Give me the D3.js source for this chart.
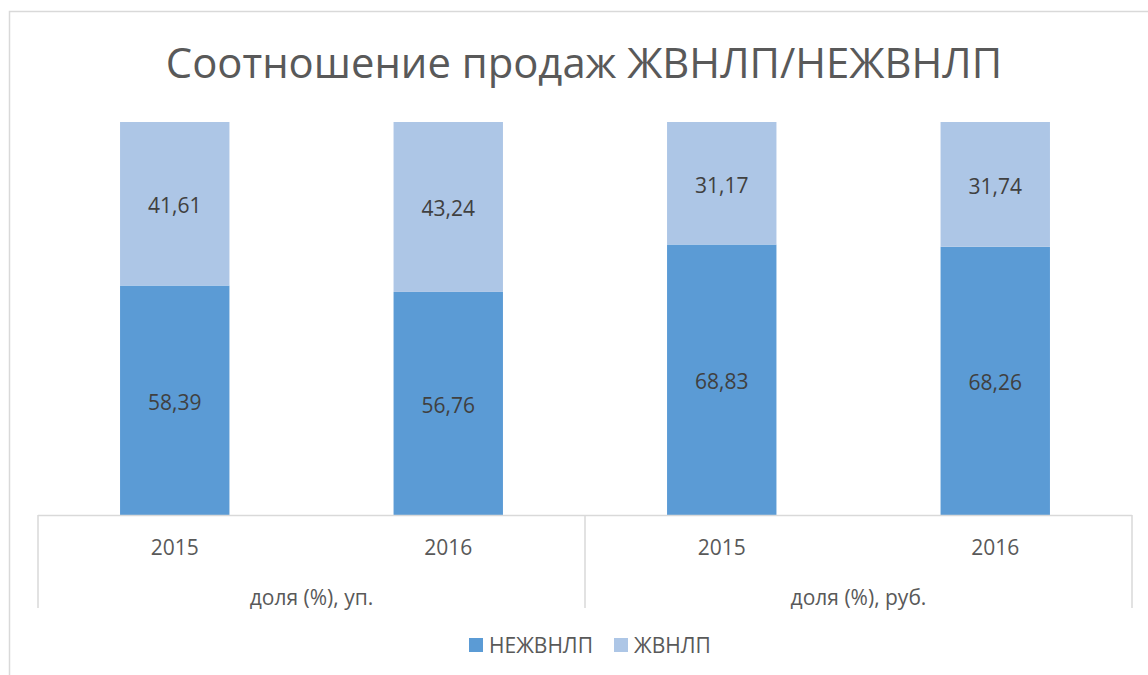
<!DOCTYPE html>
<html><head><meta charset="utf-8">
<script src="https://cdn.jsdelivr.net/npm/d3@7"></script>
<style>body{margin:0;background:#fff}svg{display:block;font-family:"Open Sans",sans-serif}</style>
</head><body><svg id="c" width="1148" height="675"></svg>
<script>
const title = "Соотношение продаж ЖВНЛП/НЕЖВНЛП";
const years = ["2015","2016","2015","2016"];
const groups = ["доля (%), уп.","доля (%), руб."];
const seriesNames = ["НЕЖВНЛП","ЖВНЛП"];
const nonEssential = [58.39,56.76,68.83,68.26];
const essential = [41.61,43.24,31.17,31.74];
const labels = [["58,39","56,76","68,83","68,26"],["41,61","43,24","31,17","31,74"]];
const colors = ["#5B9BD5","#ADC6E6"];

const svg = d3.select("#c");
svg.append("rect").attr("x",9.5).attr("y",11.5).attr("width",1150).attr("height",700)
  .attr("fill","none").attr("stroke","#d9d9d9").attr("stroke-width",1.5);

svg.append("text").attr("x",584).attr("y",78).attr("text-anchor","middle")
  .attr("font-size",41.8).attr("fill","#595959").text(title);

const x = d3.scaleBand().domain(d3.range(4)).range([38,1132]).paddingInner(0.6).paddingOuter(0.3);
const y = d3.scaleLinear().domain([0,100]).range([515,122]);

const stackData = years.map((yr,i)=>({i, s0:nonEssential[i], s1:essential[i]}));
const stack = d3.stack().keys(["s0","s1"])(stackData);

stack.forEach((layer,k)=>{
  const g = svg.append("g");
  g.selectAll("rect").data(layer).enter().append("rect")
    .attr("x",d=>x(d.data.i)).attr("width",x.bandwidth())
    .attr("y",d=>y(d[1])).attr("height",d=>y(d[0])-y(d[1]))
    .attr("fill",colors[k]);
  g.selectAll("text").data(layer).enter().append("text")
    .attr("x",d=>x(d.data.i)+x.bandwidth()/2).attr("y",d=>(y(d[0])+y(d[1]))/2)
    .attr("dy","0.45em").attr("text-anchor","middle").attr("font-size",21).attr("fill","#404040")
    .text((d,j)=>labels[k][j]);
});

const ax = svg.append("g").attr("stroke","#d9d9d9").attr("stroke-width",1.5);
ax.append("line").attr("x1",38).attr("x2",1132).attr("y1",515.5).attr("y2",515.5);
[38,585,1132].forEach(v=>ax.append("line").attr("x1",v).attr("x2",v).attr("y1",515).attr("y2",608));

svg.append("g").selectAll("text").data(years).enter().append("text")
  .attr("x",(d,i)=>x(i)+x.bandwidth()/2).attr("y",555).attr("text-anchor","middle")
  .attr("font-size",21).attr("fill","#595959").text(d=>d);
svg.append("g").selectAll("text").data(groups).enter().append("text")
  .attr("x",(d,i)=>(x(i*2)+x(i*2+1)+x.bandwidth())/2).attr("y",605).attr("text-anchor","middle")
  .attr("font-size",21).attr("fill","#595959").text(d=>d);

const leg = [469,614];
seriesNames.forEach((n,i)=>{
  svg.append("rect").attr("x",leg[i]).attr("y",638).attr("width",14).attr("height",14).attr("fill",colors[i]);
  svg.append("text").attr("x",leg[i]+20).attr("y",652.5).attr("font-size",21).attr("fill","#595959").text(n);
});
</script></body></html>
